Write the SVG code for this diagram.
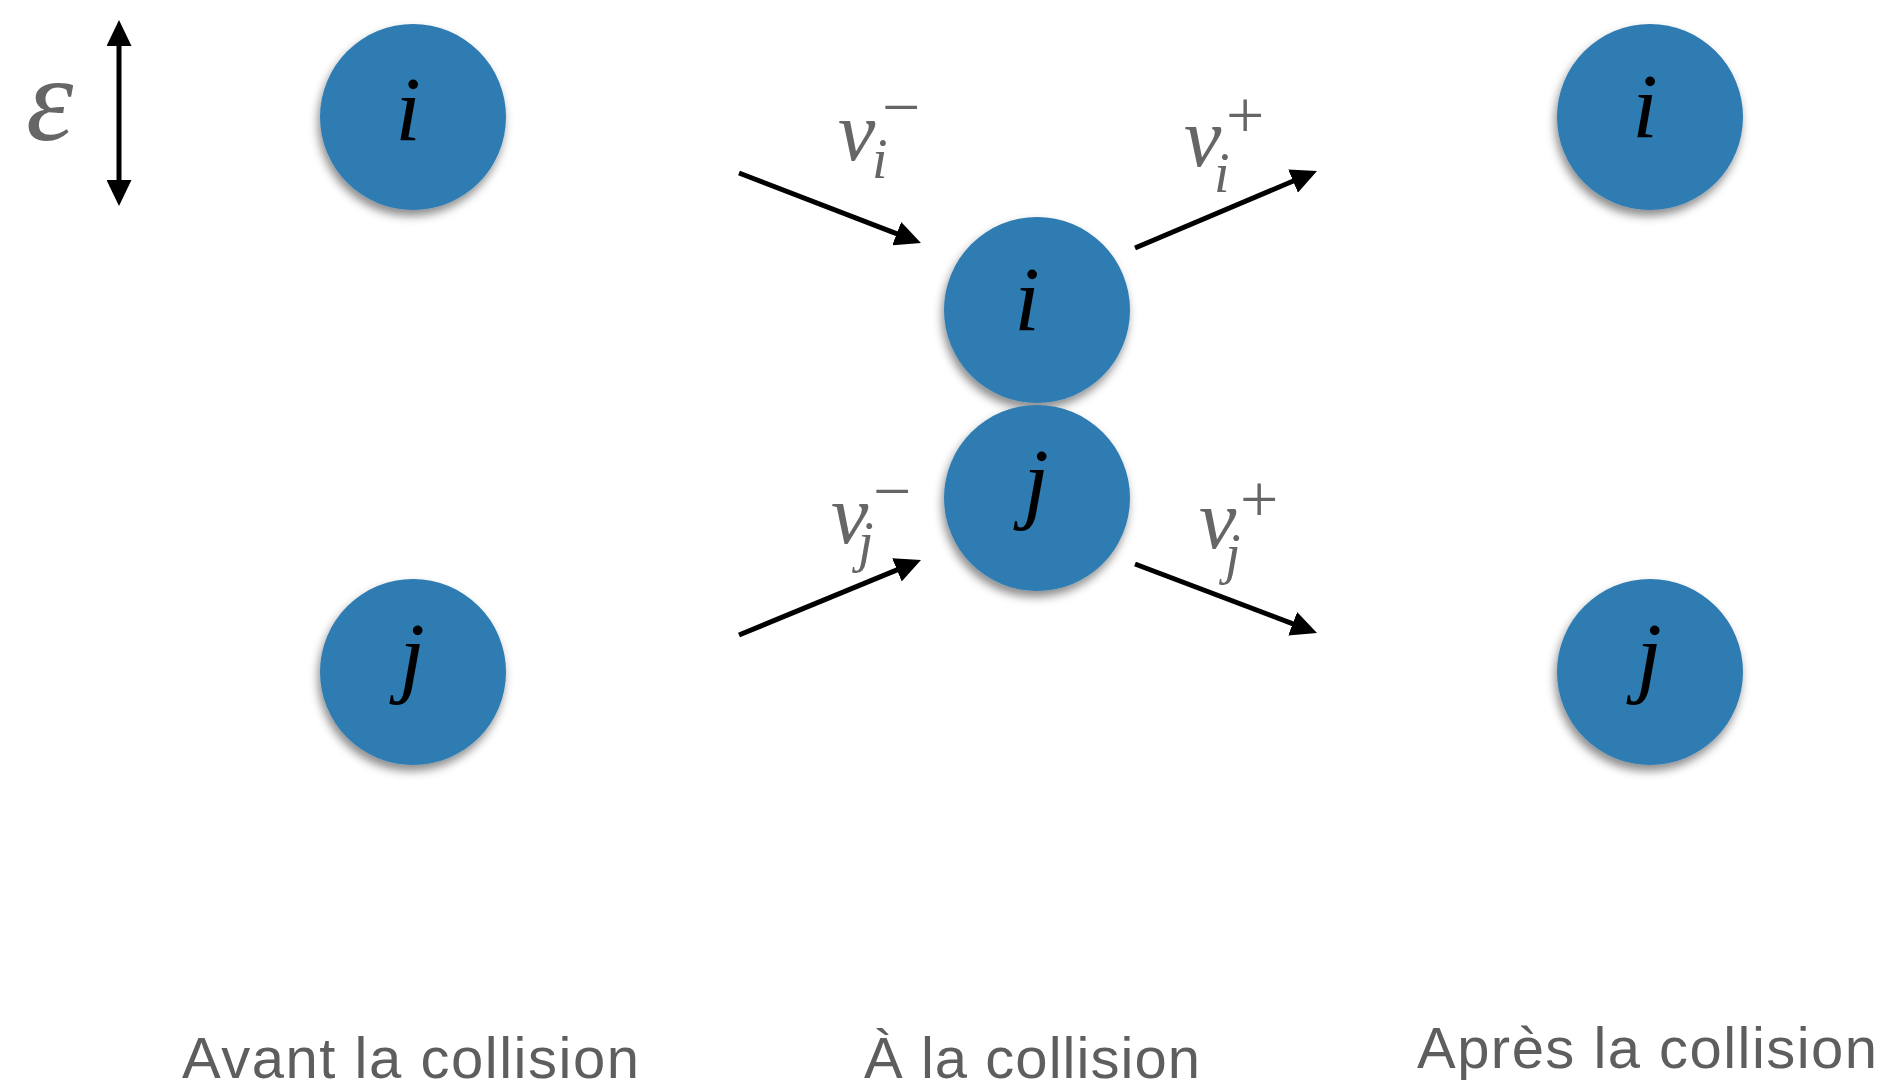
<svg xmlns="http://www.w3.org/2000/svg" width="1891" height="1091" viewBox="0 0 1891 1091">
  <style>
    .ball { fill: #2f7cb2; filter: url(#shadow); }
    .lbl { font-family: "Liberation Serif", serif; font-style: italic; font-size: 92px; fill: #000; text-anchor: middle; }
    .vel { font-family: "Liberation Serif", serif; font-style: italic; fill: #666; }
    .v { font-size: 84px; }
    .sub { font-size: 56px; }
    .sup { font-family: "Liberation Serif", serif; font-style: normal; font-size: 68px; fill: #666; }
    .cap { font-family: "Liberation Sans", Arial, sans-serif; font-size: 58px; fill: #5e5e5e; }
    .arr { stroke: #000; stroke-width: 5; fill: none; }
  </style>
  <defs>
    <filter id="shadow" x="-20%" y="-20%" width="140%" height="150%">
      <feDropShadow dx="-2" dy="6" stdDeviation="5" flood-color="#000" flood-opacity="0.45"/>
    </filter>
    <marker id="head" markerUnits="userSpaceOnUse" markerWidth="26" markerHeight="25" refX="6" refY="12.5" orient="auto-start-reverse" viewBox="0 0 26 25">
      <path d="M0,0 L26,12.5 L0,25 z" fill="#000"/>
    </marker>
  </defs>

  <rect width="1891" height="1091" fill="#fff"/>

  <g id="epsilon">
    <text x="26" y="140" class="vel" font-size="120">ε</text>
  </g>

  <g id="connectors">
    <line class="arr" x1="119" y1="40" x2="119" y2="186" marker-start="url(#head)" marker-end="url(#head)"/>
    <line class="arr" x1="739" y1="173" x2="902.3" y2="235.8" marker-end="url(#head)"/>
    <line class="arr" x1="1135" y1="248" x2="1298.6" y2="178.8" marker-end="url(#head)"/>
    <line class="arr" x1="739" y1="635" x2="902.5" y2="567.6" marker-end="url(#head)"/>
    <line class="arr" x1="1135" y1="564" x2="1298.3" y2="625.9" marker-end="url(#head)"/>
  </g>

  <g id="before-i">
    <circle class="ball" cx="413" cy="117" r="93"/>
    <text class="lbl" x="408" y="140">i</text>
  </g>
  <g id="before-j">
    <circle class="ball" cx="413" cy="672" r="93"/>
    <text class="lbl" x="412" y="686">j</text>
  </g>
  <g id="during-i">
    <circle class="ball" cx="1037" cy="310" r="93"/>
    <text class="lbl" x="1027" y="330">i</text>
  </g>
  <g id="during-j">
    <circle class="ball" cx="1037" cy="498" r="93"/>
    <text class="lbl" x="1036" y="512">j</text>
  </g>
  <g id="after-i">
    <circle class="ball" cx="1650" cy="117" r="93"/>
    <text class="lbl" x="1645" y="137">i</text>
  </g>
  <g id="after-j">
    <circle class="ball" cx="1650" cy="672" r="93"/>
    <text class="lbl" x="1649" y="686">j</text>
  </g>

  <g id="vi-minus">
    <text class="vel v" x="838" y="160">v</text>
    <text class="vel sub" x="872" y="178">i</text>
    <text class="sup" x="882" y="130">−</text>
  </g>
  <g id="vi-plus">
    <text class="vel v" x="1184" y="166">v</text>
    <text class="vel sub" x="1214" y="192">i</text>
    <text class="sup" x="1226" y="138">+</text>
  </g>
  <g id="vj-minus">
    <text class="vel v" x="831" y="543">v</text>
    <text class="vel sub" x="858" y="561">j</text>
    <text class="sup" x="873" y="514">−</text>
  </g>
  <g id="vj-plus">
    <text class="vel v" x="1199" y="548">v</text>
    <text class="vel sub" x="1225" y="573">j</text>
    <text class="sup" x="1240" y="522">+</text>
  </g>

  <g id="captions">
    <text class="cap" x="182" y="1078" textLength="457" lengthAdjust="spacing">Avant la collision</text>
    <text class="cap" x="864" y="1078" textLength="336" lengthAdjust="spacing">À la collision</text>
    <text class="cap" x="1417" y="1068" textLength="460" lengthAdjust="spacing">Après la collision</text>
  </g>
</svg>
